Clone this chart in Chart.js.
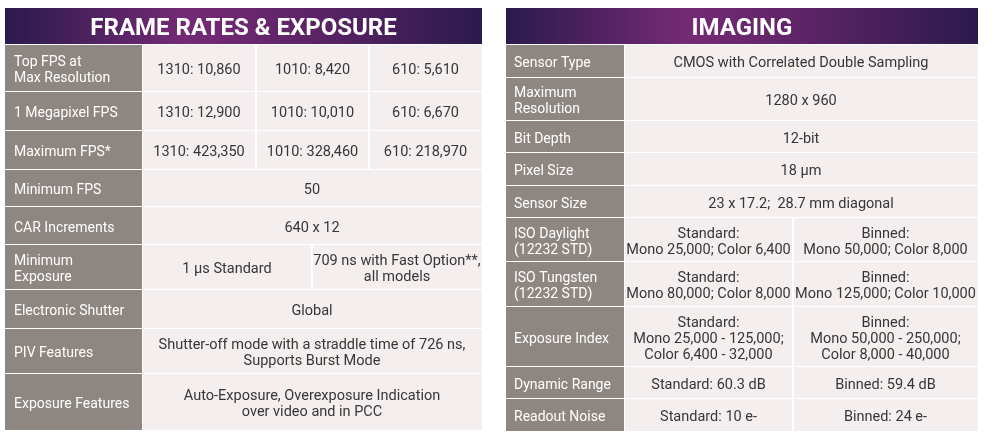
<!DOCTYPE html>
<html>
<head>
<meta charset="utf-8">
<script src="https://cdn.jsdelivr.net/npm/chart.js@4.4.0/dist/chart.umd.min.js"></script>
<style>
  html, body { margin: 0; padding: 0; background: #fff; width: 999px; height: 446px; overflow: hidden; }
  canvas { position: absolute; top: 8px; }
  #fps { left: 5px; }
  #img { left: 506px; }
</style>
</head>
<body>
<canvas id="fps" width="477" height="424"></canvas>
<canvas id="img" width="472" height="424"></canvas>
<script>
// ===========================
// Table contents
const fpsTitle = "FRAME RATES & EXPOSURE";
const fpsRows = [
  "Top FPS at\nMax Resolution",
  "1 Megapixel FPS",
  "Maximum FPS*",
  "Minimum FPS",
  "CAR Increments",
  "Minimum\nExposure",
  "Electronic Shutter",
  "PIV Features",
  "Exposure Features",
];
const fpsValues = [
  ["1310: 10,860", "1010: 8,420", "610: 5,610"],
  ["1310: 12,900", "1010: 10,010", "610: 6,670"],
  ["1310: 423,350", "1010: 328,460", "610: 218,970"],
  ["50"],
  ["640 x 12"],
  ["1 µs Standard", "709 ns with Fast Option**,\nall models"],
  ["Global"],
  ["Shutter-off mode with a straddle time of 726 ns,\nSupports Burst Mode"],
  ["Auto-Exposure, Overexposure Indication\nover video and in PCC"],
];

const imgTitle = "IMAGING";
const imgRows = [
  "Sensor Type",
  "Maximum\nResolution",
  "Bit Depth",
  "Pixel Size",
  "Sensor Size",
  "ISO Daylight\n(12232 STD)",
  "ISO Tungsten\n(12232 STD)",
  "Exposure Index",
  "Dynamic Range",
  "Readout Noise",
];
const imgValues = [
  ["CMOS with Correlated Double Sampling"],
  ["1280 x 960"],
  ["12-bit"],
  ["18 µm"],
  ["23 x 17.2;  28.7 mm diagonal"],
  ["Standard:\nMono 25,000; Color 6,400", "Binned:\nMono 50,000; Color 8,000"],
  ["Standard:\nMono 80,000; Color 8,000", "Binned:\nMono 125,000; Color 10,000"],
  ["Standard:\nMono 25,000 - 125,000;\nColor 6,400 - 32,000", "Binned:\nMono 50,000 - 250,000;\nColor 8,000 - 40,000"],
  ["Standard: 60.3 dB", "Binned: 59.4 dB"],
  ["Standard: 10 e-", "Binned: 24 e-"],
];

// ===========================
// Layout (scale units = canvas px)
const fpsLayout = {
  width: 477, height: 424, labelPad: 9,
  rowEdges: [36, 83, 122, 161, 198, 236, 281, 320, 365, 422],
  splits: { 1: [137, 477], 2: [137, 307, 477], 3: [137, 251, 364, 477] },
};
const imgLayout = {
  width: 472, height: 424, labelPad: 8,
  rowEdges: [36, 69, 112, 144, 177, 209, 253, 298, 358, 390, 423],
  splits: { 1: [118, 472], 2: [118, 287, 472] },
};

const labelColor = "#8e8681";
const cellColor = "#f4eeee";
const textColor = "#363636";
const font = "Roboto, 'DejaVu Sans', sans-serif";

const drawLines = (ctx, text, cx, cy, lh) => {
  const lines = text.split("\n");
  const y0 = cy - (lines.length - 1) * lh / 2 + 2.5;
  lines.forEach((l, i) => ctx.fillText(l, cx, y0 + i * lh));
};

const tablePlugin = (title, rows, values, layout) => ({
  id: "table",
  afterDraw(chart) {
    const ctx = chart.ctx;
    const px = v => chart.scales.x.getPixelForValue(v);
    const py = v => chart.scales.y.getPixelForValue(v);
    const edges = layout.rowEdges;
    ctx.save();

    // header band
    const g = ctx.createLinearGradient(px(0), 0, px(layout.width), 0);
    g.addColorStop(0, "#2b1a4c");
    g.addColorStop(0.38, "#752a75");
    g.addColorStop(0.62, "#5f2467");
    g.addColorStop(1, "#2b1a4d");
    ctx.fillStyle = g;
    ctx.fillRect(px(0), py(0), px(layout.width) - px(0), py(edges[0]) - py(0));
    ctx.fillStyle = "#fff";
    ctx.font = `bold 24px ${font}`;
    ctx.textAlign = "center";
    ctx.textBaseline = "middle";
    ctx.fillText(title, px(layout.width / 2), py(edges[0] / 2) + 2.5);

    rows.forEach((label, i) => {
      const top = py(edges[i] + 1), bot = py(edges[i + 1]);
      const sp = layout.splits[values[i].length];
      // label cell
      ctx.fillStyle = labelColor;
      ctx.fillRect(px(0), top, px(sp[0]) - px(0), bot - top);
      ctx.fillStyle = "#fff";
      ctx.font = `14px ${font}`;
      ctx.textAlign = "left";
      drawLines(ctx, label, px(layout.labelPad), (top + bot) / 2, 16);
      // value cells
      ctx.font = `14.5px ${font}`;
      values[i].forEach((v, j) => {
        const l = px(sp[j] + 1), r = px(sp[j + 1] - (j === values[i].length - 1 ? 0 : 1));
        ctx.fillStyle = cellColor;
        ctx.fillRect(l, top, r - l, bot - top);
        ctx.fillStyle = textColor;
        ctx.textAlign = "center";
        drawLines(ctx, v, (px(sp[j]) + px(sp[j + 1])) / 2, (top + bot) / 2, 16);
      });
      // white rule under each row
      ctx.fillStyle = "#fff";
      ctx.fillRect(px(0), bot, px(layout.width) - px(0), 1);
    });
    ctx.restore();
  },
});

const makeTable = (id, title, rows, values, layout) => new Chart(document.getElementById(id), {
  type: "scatter",
  data: { datasets: [] },
  options: {
    responsive: false,
    animation: false,
    events: [],
    layout: { padding: 0 },
    plugins: { legend: { display: false }, tooltip: { enabled: false } },
    scales: {
      x: { type: "linear", display: false, min: 0, max: layout.width },
      y: { type: "linear", display: false, min: 0, max: layout.height, reverse: true },
    },
  },
  plugins: [tablePlugin(title, rows, values, layout)],
});

makeTable("fps", fpsTitle, fpsRows, fpsValues, fpsLayout);
makeTable("img", imgTitle, imgRows, imgValues, imgLayout);
</script>
</body>
</html>
